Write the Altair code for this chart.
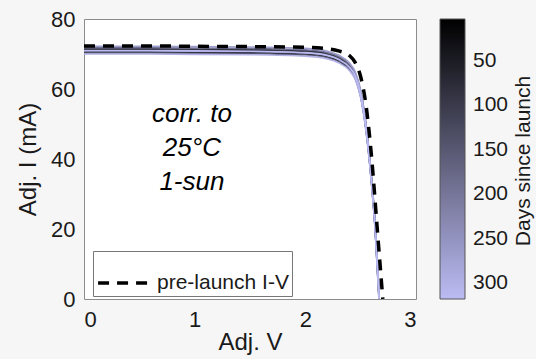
import altair as alt
import pandas as pd

# ---- data ----
v_grid = [0.0, 0.5, 1.0, 1.5, 2.0, 2.2, 2.3, 2.4, 2.45, 2.5, 2.55, 2.6, 2.63, 2.667]

flight_days = [10, 45, 90, 140, 190, 230, 270, 300, 318]
flight_I = [
    [71.2, 71.2, 71.1, 71.0, 70.6, 69.8, 68.7, 66.4, 64.0, 58.7, 48.7, 33.2, 21.2, 0.4],
    [70.6, 70.6, 70.5, 70.4, 70.0, 69.2, 68.1, 65.8, 63.4, 58.1, 48.1, 32.6, 20.6, -0.4],
    [71.5, 71.5, 71.4, 71.3, 70.9, 70.1, 69.0, 66.7, 64.3, 59.0, 49.0, 33.6, 21.6, 0.9],
    [70.3, 70.3, 70.2, 70.1, 69.7, 68.9, 67.8, 65.5, 63.1, 57.8, 47.8, 32.3, 20.3, -0.8],
    [71.8, 71.8, 71.7, 71.6, 71.2, 70.4, 69.3, 67.0, 64.6, 59.3, 49.3, 33.9, 21.9, 1.4],
    [70.9, 70.9, 70.8, 70.7, 70.3, 69.5, 68.4, 66.1, 63.7, 58.4, 48.4, 32.9, 20.9, 0.0],
    [72.2, 72.2, 72.1, 72.0, 71.6, 70.8, 69.7, 67.4, 65.0, 59.7, 49.7, 34.3, 22.3, 2.0],
    [70.0, 70.0, 69.9, 69.8, 69.4, 68.6, 67.5, 65.2, 62.8, 57.5, 47.5, 32.0, 20.0, -1.2],
    [71.0, 71.0, 70.9, 70.8, 70.4, 69.6, 68.5, 66.2, 63.8, 58.5, 48.5, 33.0, 21.0, 0.2],
]

pre_V = [0.0, 0.5, 1.0, 1.5, 2.0, 2.2, 2.3, 2.4, 2.45, 2.5, 2.55, 2.6, 2.65, 2.7]
pre_I = [72.3, 72.3, 72.2, 72.1, 71.9, 71.5, 70.9, 69.5, 67.6, 63.5, 55.0, 40.0, 20.0, 0.0]

legend_days = [50, 100, 150, 200, 250, 300]
annotation = "corr. to\n25°C\n1-sun"
colorbar_title = "Days since launch"

# ---- tables ----
rows = []
for d, cur in zip(flight_days, flight_I):
    for v, i in zip(v_grid, cur):
        # negated day so the vertical colour bar runs from 0 (top) to 318 (bottom)
        rows.append({"V": v, "I": i, "day": d, "negday": -d})
flight = pd.DataFrame(rows)
pre = pd.DataFrame({"V": pre_V, "I": pre_I, "series": "pre-launch I-V"})

FONT = "Liberation Sans"
TXT = "#1a1a1a"

xs = alt.Scale(domain=[0, 3], nice=False)
ys = alt.Scale(domain=[0, 80], nice=False)

lines = alt.Chart(flight).mark_line(strokeWidth=1.6, interpolate="monotone", clip=True).encode(
    x=alt.X("V:Q", scale=xs, title="Adj. V",
            axis=alt.Axis(values=[0, 1, 2, 3], format="d")),
    y=alt.Y("I:Q", scale=ys, title="Adj. I (mA)",
            axis=alt.Axis(values=[0, 20, 40, 60, 80], format="d")),
    detail="day:N",
    color=alt.Color("negday:Q",
                    scale=alt.Scale(domain=[-318, -3], range=["#bcbcf4", "#000000"],
                                    interpolate="rgb"),
                    legend=alt.Legend(
                        title=None, orient="none",
                        legendX=356, legendY=0, padding=0,
                        gradientLength=280, gradientThickness=25,
                        gradientStrokeColor="#555555", gradientStrokeWidth=1,
                        values=[-d for d in legend_days],
                        labelExpr="format(-datum.value, 'd')",
                        labelFontSize=21, labelFont=FONT,
                        labelColor=TXT, labelOffset=8)),
)

prel = alt.Chart(pre).mark_line(strokeWidth=3.5, color="black", interpolate="monotone",
                                clip=True).encode(
    x=alt.X("V:Q", scale=xs),
    y=alt.Y("I:Q", scale=ys),
    strokeDash=alt.StrokeDash("series:N",
                              scale=alt.Scale(range=[[11, 8]]),
                              legend=alt.Legend(
                                  title=None, orient="none", legendX=9, legendY=232,
                                  fillColor="white", strokeColor="#777777", padding=3,
                                  symbolType="stroke", symbolSize=2900,
                                  symbolStrokeWidth=3.5, symbolStrokeColor="black",
                                  labelFontSize=21, labelFont=FONT, labelColor=TXT,
                                  labelOffset=3)),
)

txt = alt.Chart(pd.DataFrame({"t": [annotation]})).mark_text(
    font=FONT, fontSize=26, fontStyle="italic", align="center", baseline="middle",
    lineBreak="\n", lineHeight=34, color="black",
).encode(x=alt.datum(0.975), y=alt.datum(53.0), text="t:N")

cbt = alt.Chart(pd.DataFrame({"t": [colorbar_title]})).mark_text(
    font=FONT, fontSize=21, angle=270, align="center", baseline="middle", color=TXT,
).encode(x=alt.value(440), y=alt.value(142), text="t:N")

chart = alt.layer(lines, prel, txt, cbt).properties(
    width=332, height=280,
    autosize=alt.AutoSizeParams(type="none"),
    padding={"left": 84, "top": 19, "right": 120, "bottom": 60},
    background="#f6f6f6",
).configure_view(
    fill="white", stroke="#8c8c8c", strokeWidth=1,
).configure_axis(
    domain=False, grid=False, ticks=False,
    labelFont=FONT, labelFontSize=22, labelColor=TXT,
    titleFont=FONT, titleFontSize=24, titleFontWeight="normal", titleColor=TXT,
).configure_axisX(labelPadding=10, titlePadding=0).configure_axisY(labelPadding=9, titlePadding=10)

chart.save("out.html", embed_options={"renderer": "svg", "actions": False})
